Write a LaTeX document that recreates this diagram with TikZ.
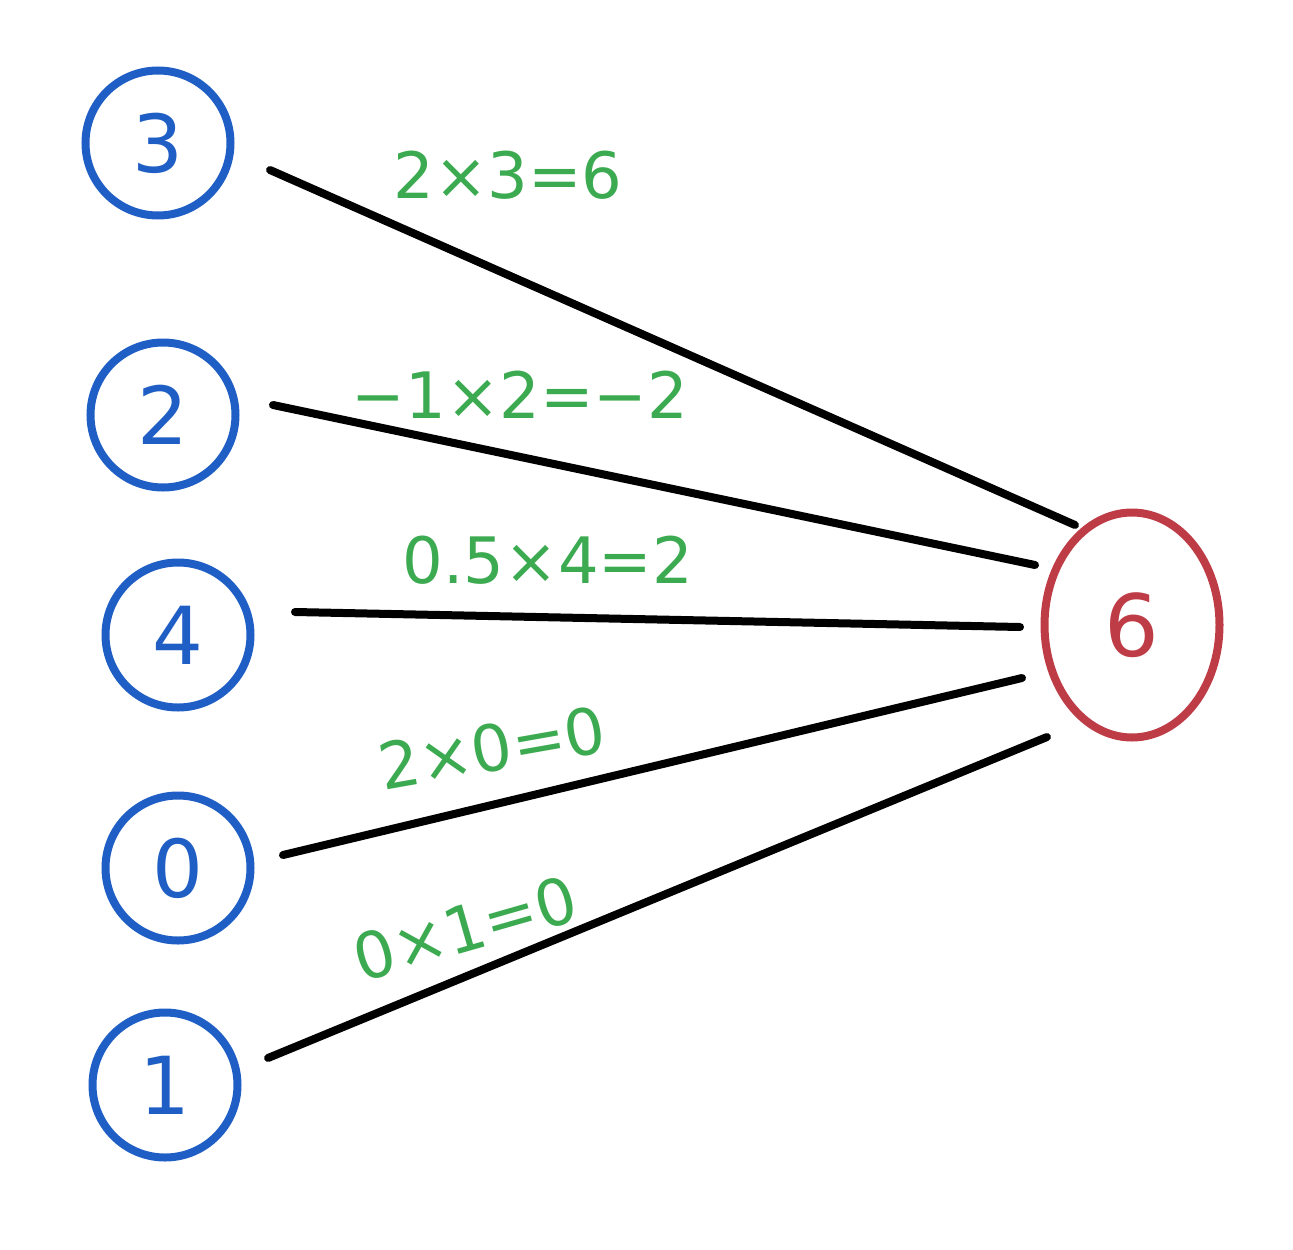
\documentclass[tikz,border=0pt]{standalone}
\usepackage{fontspec}
\setmainfont{DejaVu Sans}
\usetikzlibrary{shapes.geometric}
\definecolor{cblue}{RGB}{31,94,196}
\definecolor{cred}{RGB}{190,60,70}
\definecolor{cgreen}{RGB}{60,170,80}
\tikzset{
 inp/.style={circle,draw=cblue,line width=8pt,minimum size=145pt,text=cblue,font=\fontsize{80}{86}\selectfont},
 outp/.style={ellipse,draw=cred,line width=8pt,minimum width=175pt,minimum height=225pt,text=cred,font=\fontsize{86}{92}\selectfont},
 wire/.style={line width=8pt,line cap=round,black},
 lbl/.style={text=cgreen,font=\fontsize{64}{70}\selectfont,inner sep=0pt}
}
\begin{document}
\begin{tikzpicture}[x=1pt,y=-1pt]
\useasboundingbox (0,0) rectangle (1293,1250);
\node[inp] (a) at (158,143) {3};
\node[inp] (b) at (163,415) {2};
\node[inp] (c) at (178,635) {4};
\node[inp] (d) at (178,868) {0};
\node[inp] (e) at (165,1085) {1};
\node[outp] (o) at (1132,625) {6};
\coordinate (a1) at (270,170); \coordinate (a2) at (1075,525);
\coordinate (b1) at (273,405); \coordinate (b2) at (1035,565);
\coordinate (c1) at (295,612); \coordinate (c2) at (1020,627);
\coordinate (d1) at (283,855); \coordinate (d2) at (1022,678);
\coordinate (e1) at (268,1058); \coordinate (e2) at (1047,737);
\draw[wire] (a1) -- (a2);
\draw[wire] (b1) -- (b2);
\draw[wire] (c1) -- (c2);
\draw[wire] (d1) -- (d2);
\draw[wire] (e1) -- (e2);
\node[lbl] (la) at (508,175) {2×3=6};
\node[lbl] (lb) at (520,395) {−1×2=−2};
\node[lbl] (lc) at (548,560) {0.5×4=2};
\node[lbl,rotate=10] (ld) at (492,748) {2×0=0};
\node[lbl,rotate=16] (le) at (465,928) {0×1=0};
\end{tikzpicture}
\end{document}
